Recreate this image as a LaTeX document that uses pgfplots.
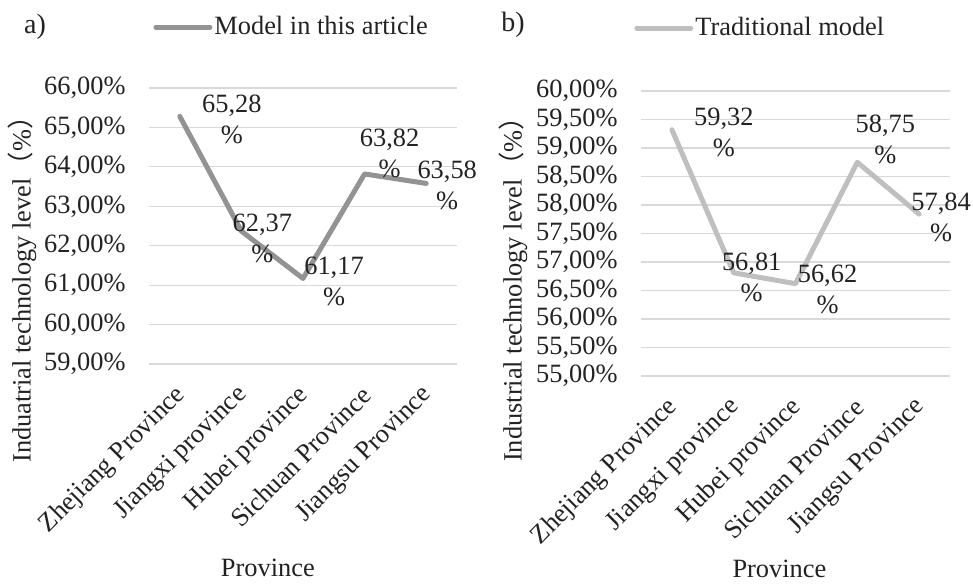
\documentclass[border=0pt]{standalone}
\usepackage{fontspec}
\setmainfont{Liberation Serif}
\newfontfamily\cjk{Noto Sans CJK SC}
\usepackage{pgfplots}
\usepackage{pgfplotstable}
\pgfplotsset{compat=1.18}
\definecolor{gridc}{HTML}{D9D9D9}
\definecolor{lineA}{HTML}{939393}
\definecolor{lineB}{HTML}{BFBFBF}
\definecolor{txt}{HTML}{222222}

\pgfplotstableread{
x y dx dy
0 65.28 26 -1.25
1 62.37 10.5 -3.5
2 61.17 15.5 -1.5
3 63.82 12.5 10.5
4 63.58 10.5 -1
}\dataA
\pgfplotstableread{
x y dx dy
0 59.32 26 -1.5
1 56.81 9 -2.5
2 56.62 16 -3
3 58.75 14 11.5
4 57.84 11 -1.5
}\dataB

\pgfplotsset{
 mystyle/.style={
  scale only axis, anchor=south west, clip=false,
  font=\fontsize{13.2}{15.5}\selectfont,
  /pgf/number format/assume math mode=true,
  xmin=-0.5, xmax=4.5, xtick={0,1,2,3,4},
  xticklabels={Zhejiang Province, Jiangxi province, Hubei province, Sichuan Province, Jiangsu Province},
  xticklabel style={anchor=east, inner sep=0pt, xshift=1pt, yshift=-13.5pt, rotate=45},
  yticklabel={\pgfmathprintnumber[fixed,fixed zerofill,precision=2,use comma]{\tick}\%},
  yticklabel style={anchor=east, inner sep=0pt, xshift=-11.5pt},
  ymajorgrids, grid style={gridc, line width=0.6pt},
  axis line style={draw=none}, major tick style={draw=none}, major tick length=0pt,
  legend style={draw=none, fill=none, inner sep=0pt, anchor=west, column sep=1pt,
    nodes={inner sep=0pt}, font=\fontsize{13.2}{15.5}\selectfont},
  legend image code/.code={\draw[##1, line width=2.5pt, line cap=round] (0pt,0pt) -- (27pt,0pt);},
 },
 lbl/.style={
  point meta=\thisrow{y},
  visualization depends on={\thisrow{dx}\as\dx},
  visualization depends on={\thisrow{dy}\as\dy},
  nodes near coords={\pgfmathprintnumber[fixed,fixed zerofill,precision=2,use comma]{\pgfplotspointmeta}\\\%},
  nodes near coords style={align=center, anchor=center, inner sep=0pt, xshift=\dx pt, yshift=\dy pt,
    font=\fontsize{13.2}{15.5}\selectfont, text=txt},
 }
}

\begin{document}
\color{txt}
\begin{tikzpicture}
\path[use as bounding box] (0,0) rectangle (486.5pt,291.5pt);
\node at (17.5pt,278pt) {\fontsize{14}{15}\selectfont a)};
\node at (256.5pt,279pt) {\fontsize{14}{15}\selectfont b)};

\begin{axis}[mystyle,
  at={(74.5pt,109.5pt)}, width=154pt, height=138pt,
  ymin=59, ymax=66, ytick={59,60,61,62,63,64,65,66},
  xlabel={Province}, xlabel style={at={(rel axis cs:0.386,-0.739)}, anchor=center},
  ylabel={Induatrial technology level{\cjk （}\%{\cjk ）}}, ylabel style={at={(rel axis cs:-0.412,0.293)}, anchor=center},
  legend style={at={(rel axis cs:0.013,1.221)}},
]
\addlegendimage{lineA}
\addlegendentry{Model in this article}
\addplot[lineA, line width=2.5pt, line join=round, line cap=round, forget plot, lbl] table[x=x,y=y] {\dataA};
\end{axis}

\begin{axis}[mystyle,
  at={(320.5pt,103.5pt)}, width=154.5pt, height=142.5pt,
  ymin=55, ymax=60, ytick={55,55.5,56,56.5,57,57.5,58,58.5,59,59.5,60},
  xlabel={Province}, xlabel style={at={(rel axis cs:0.448,-0.676)}, anchor=center},
  ylabel={Industrial technology level{\cjk （}\%{\cjk ）}}, ylabel style={at={(rel axis cs:-0.414,0.326)}, anchor=center},
  legend style={at={(rel axis cs:-0.023,1.221)}},
]
\addlegendimage{lineB}
\addlegendentry{Traditional model}
\addplot[lineB, line width=2.5pt, line join=round, line cap=round, forget plot, lbl] table[x=x,y=y] {\dataB};
\end{axis}
\end{tikzpicture}
\end{document}
